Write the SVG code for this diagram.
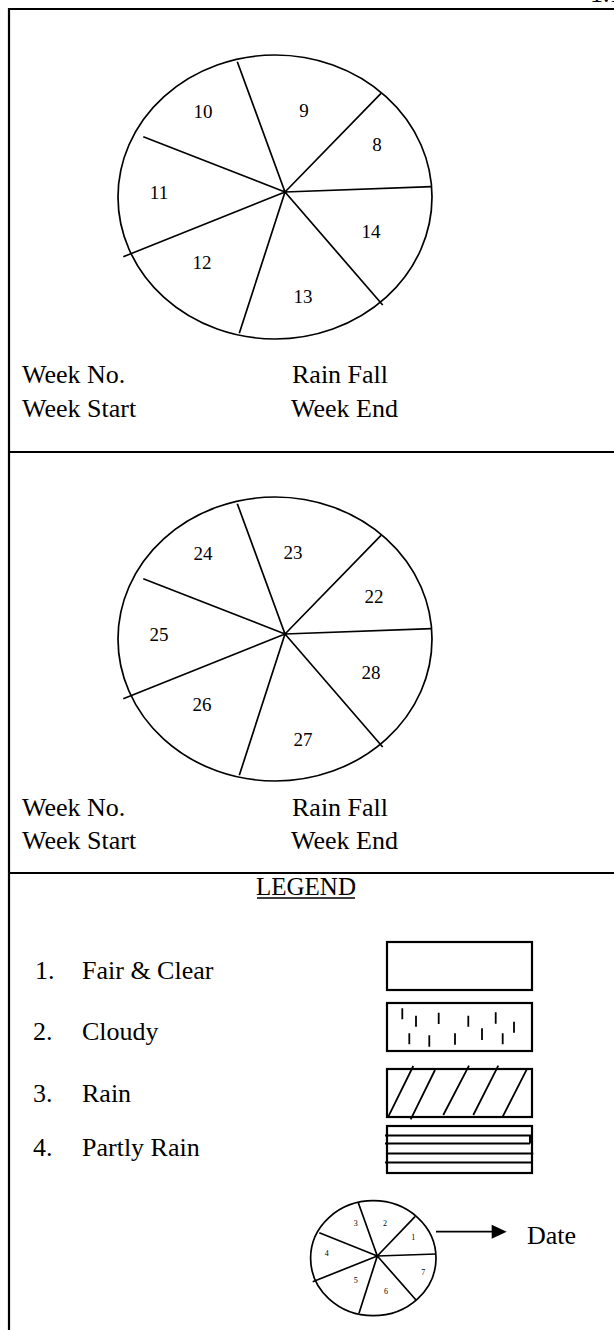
<svg xmlns="http://www.w3.org/2000/svg" width="614" height="1330" viewBox="0 0 614 1330">
<style>
text{font-family:"Liberation Serif","Times New Roman",serif;fill:#000}
.t{font-size:26px}
.n{font-size:19px;text-anchor:middle}
.s{font-size:8px;text-anchor:middle}
.frame{stroke:#000;stroke-width:2.2;fill:none}
.pie{stroke:#000;stroke-width:1.7;fill:none}
.box{stroke:#000;stroke-width:2.2;fill:#fff}
.tick{stroke:#000;stroke-width:1.8}
</style>
<rect width="614" height="1330" fill="#fff"/>
<g id="frame">
<line class="frame" x1="8" y1="9" x2="614" y2="9"/>
<line class="frame" x1="9" y1="8" x2="9" y2="1330"/>
<line class="frame" x1="9" y1="452" x2="614" y2="452"/>
<line class="frame" x1="9" y1="873" x2="614" y2="873"/>
<text class="t" x="590" y="2">1.1</text>
</g>
<g id="pie1">
<ellipse class="pie" cx="275" cy="197" rx="157" ry="142"/>
<path class="pie" d="M285,192 L237.3,61.7 M285,192 L381,93.3 M285,192 L431.7,186.7 M285,192 L382.7,305 M285,192 L239.3,333.3 M285,192 L123.3,256.7 M285,192 L143.3,136.7"/>
<text class="n" x="203" y="118">10</text>
<text class="n" x="304" y="117">9</text>
<text class="n" x="377" y="151">8</text>
<text class="n" x="159" y="199">11</text>
<text class="n" x="371" y="238">14</text>
<text class="n" x="202" y="269">12</text>
<text class="n" x="303" y="303">13</text>
</g>
<g id="labels1">
<text class="t" x="22" y="383">Week No.</text>
<text class="t" x="292" y="383">Rain Fall</text>
<text class="t" x="22" y="417">Week Start</text>
<text class="t" x="291" y="417">Week End</text>
</g>
<g id="pie2">
<ellipse class="pie" cx="275" cy="639" rx="157" ry="142"/>
<path class="pie" d="M285,634 L237.3,503.7 M285,634 L381,535.3 M285,634 L431.7,628.7 M285,634 L382.7,747 M285,634 L239.3,775.3 M285,634 L123.3,698.7 M285,634 L143.3,578.7"/>
<text class="n" x="203" y="560">24</text>
<text class="n" x="293" y="559">23</text>
<text class="n" x="374" y="603">22</text>
<text class="n" x="159" y="641">25</text>
<text class="n" x="371" y="679">28</text>
<text class="n" x="202" y="711">26</text>
<text class="n" x="303" y="746">27</text>
</g>
<g id="labels2">
<text class="t" x="22" y="816">Week No.</text>
<text class="t" x="292" y="816">Rain Fall</text>
<text class="t" x="22" y="849">Week Start</text>
<text class="t" x="291" y="849">Week End</text>
</g>
<g id="legend-title">
<text class="t" x="306" y="895" text-anchor="middle" style="font-size:25px">LEGEND</text>
<line x1="257" y1="898" x2="355" y2="898" stroke="#000" stroke-width="1.3"/>
</g>
<g id="item1">
<text class="t" x="35" y="979">1.</text>
<text class="t" x="82" y="979">Fair &amp; Clear</text>
<rect class="box" x="387" y="942" width="145" height="48"/>
</g>
<g id="item2">
<text class="t" x="33" y="1040">2.</text>
<text class="t" x="82" y="1040">Cloudy</text>
<rect class="box" x="387" y="1003" width="145" height="48"/>
<path class="tick" d="M402.3,1008.3V1019.3 M416,1015.7V1026.7 M438.7,1012.7V1024 M468.3,1015.7V1026.7 M495.7,1012.3V1023.7 M514,1021.7V1032.7 M409.3,1033.3V1044.3 M429.3,1035.3V1046.7 M455,1033.3V1044.7 M482,1028.3V1040 M502.7,1033.3V1044.3"/>
</g>
<g id="item3">
<text class="t" x="33" y="1102">3.</text>
<text class="t" x="82" y="1102">Rain</text>
<rect class="box" x="387" y="1069" width="145" height="48"/>
<path class="tick" d="M388.3,1116.7L413.3,1066 M410.7,1119.3L435,1070 M443.3,1115L469,1065.7 M473.3,1115L498.3,1065.7 M502.7,1116.7L527.3,1068.3"/>
</g>
<g id="item4">
<text class="t" x="33" y="1156">4.</text>
<text class="t" x="82" y="1156">Partly Rain</text>
<rect class="box" x="387" y="1126" width="145" height="47"/>
<path class="tick" d="M385,1135.5H531.7 M385,1143.5H530 M386.7,1153.5H533.3 M385,1162.5H531.7"/>
<rect x="529" y="1135.5" width="2.7" height="8" fill="#000"/>
</g>
<g id="key-pie">
<ellipse class="pie" cx="373.3" cy="1258.2" rx="62.7" ry="57.5"/>
<path class="pie" d="M377.3,1256L358.3,1202.7 M377.3,1256L415,1216.7 M377.3,1256L436,1254 M377.3,1256L416,1300 M377.3,1256L359,1313.3 M377.3,1256L312.7,1281.7 M377.3,1256L319.3,1232.7"/>
<text class="s" x="355.7" y="1225.5">3</text>
<text class="s" x="385" y="1226">2</text>
<text class="s" x="413.3" y="1239.5">1</text>
<text class="s" x="326.7" y="1255.5">4</text>
<text class="s" x="423.3" y="1274.5">7</text>
<text class="s" x="355.7" y="1283">5</text>
<text class="s" x="386" y="1293.5">6</text>
</g>
<g id="connectors">
<line x1="436" y1="1231.7" x2="493" y2="1231.7" stroke="#000" stroke-width="1.7"/>
<polygon points="491.7,1224.7 506.7,1231.7 491.7,1238.7" fill="#000"/>
</g>
<g id="date">
<text class="t" x="527" y="1244">Date</text>
</g>
</svg>
